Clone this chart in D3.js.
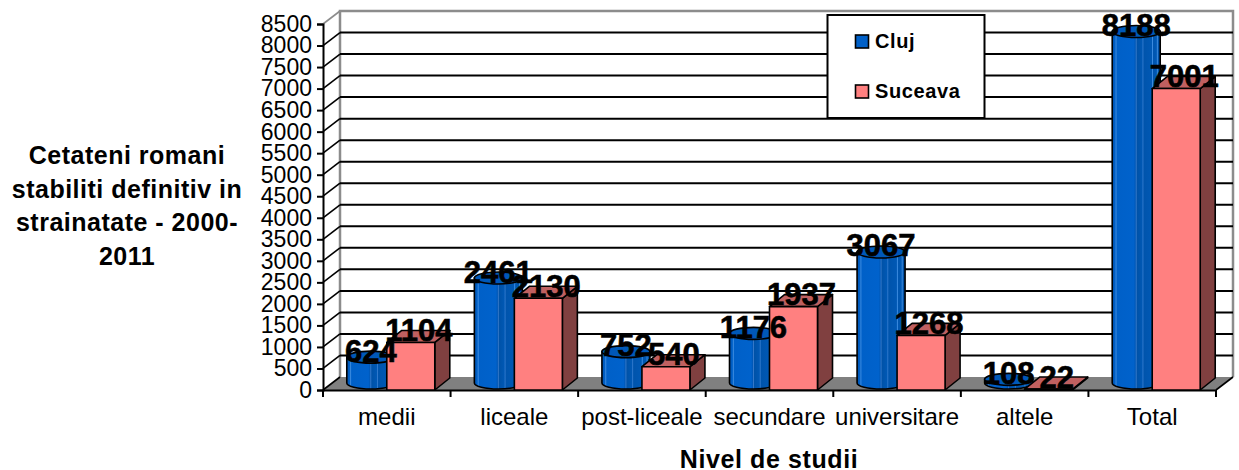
<!DOCTYPE html>
<html lang="en">
<head>
  <meta charset="UTF-8" />
  <title>Cetateni romani stabiliti definitiv in strainatate</title>
  <script src="https://d3js.org/d3.v7.min.js"></script>
  <style>
    body { margin: 0; background: #fff; }
    svg { display: block; font-family: "Liberation Sans", Arial, sans-serif; }
    .label { font-weight: bold; font-size: 31px; text-anchor: middle; fill: #000; stroke: #000; stroke-width: 0.6px; }
    .title { font-weight: bold; font-size: 25px; letter-spacing: 0.5px; text-anchor: middle; fill: #000; }
    .axis text { fill: #000; font-family: "Liberation Sans", Arial, sans-serif; }
    .y-axis text { font-size: 23px; }
    .x-axis text { font-size: 24px; }
    .axis path, .axis line { stroke: #000; stroke-width: 2px; }
  </style>
</head>
<body>
  <svg id="chart" width="1239" height="470"></svg>
  <script>
    const categories = ["medii", "liceale", "post-liceale", "secundare", "universitare", "altele", "Total"];
    const cluj = [624, 2461, 752, 1176, 3067, 108, 8188];
    const suceava = [1104, 2130, 540, 1937, 1268, 22, 7001];
    const yTicks = d3.range(0, 8501, 500);
    const titleLines = ["Cetateni romani", "stabiliti definitiv in", "strainatate - 2000-", "2011"];

    const svg = d3.select("#chart");

    // depth of the fake 3d box, and of the bars standing in it
    const dx = 17, dy = -13;
    const barDx = 15, barDy = -12;
    const barW = 48;

    const x = d3.scaleBand().domain(categories).range([323, 1216]);
    const y = d3.scaleLinear().domain([0, 8500]).range([390, 24]);

    const defs = svg.append("defs");
    const grad = defs.append("linearGradient").attr("id", "cyl");
    [[0, "#0054b0"], [0.06, "#0060c8"], [0.08, "#3d8ce0"], [0.1, "#0060c8"], [0.45, "#0062cc"], [0.48, "#0058b8"],
     [0.5, "#3478c8"], [0.52, "#0052a8"], [0.62, "#0058b4"], [0.64, "#2f78cc"], [0.66, "#0054ac"], [0.82, "#0058b4"],
     [0.84, "#3d8ce0"], [0.86, "#0056b0"], [0.92, "#0058b4"], [0.94, "#3d8ce0"], [0.96, "#0052a8"], [1, "#004a9c"]]
      .forEach(s => grad.append("stop").attr("offset", s[0]).attr("stop-color", s[1]));

    // back wall and floor
    svg.append("polygon")
      .attr("points", [[323, y(0)], [323 + dx, y(0) + dy], [1216 + dx, y(0) + dy], [1216, y(0)]].join(" "))
      .attr("fill", "#808080");
    svg.append("path")
      .attr("d", `M${323 + dx},${y(0) + dy}V${y(8500) + dy}H${1216 + dx}V${y(0) + dy}`)
      .attr("fill", "none").attr("stroke", "#8c8c8c").attr("stroke-width", 2.5);

    // gridlines: along the wall and diagonal on the side
    yTicks.forEach(t => {
      if (t > 0 && t < 8500) {
        svg.append("line").attr("x1", 323 + dx).attr("x2", 1216 + dx)
          .attr("y1", y(t) + dy).attr("y2", y(t) + dy)
          .attr("stroke", "#000").attr("stroke-width", 2);
      }
      svg.append("line").attr("x1", 323).attr("x2", 323 + dx)
        .attr("y1", y(t)).attr("y2", y(t) + dy)
        .attr("stroke", t === 8500 ? "#8c8c8c" : "#000").attr("stroke-width", 1.6);
    });
    svg.append("line").attr("x1", 1216).attr("x2", 1216 + dx)
      .attr("y1", y(0)).attr("y2", y(0) + dy)
      .attr("stroke", "#000").attr("stroke-width", 1.6);

    // axes
    svg.append("g").attr("class", "axis y-axis")
      .attr("transform", "translate(323,0)")
      .call(d3.axisLeft(y).tickValues(yTicks).tickFormat(d3.format("d")).tickSize(6).tickPadding(5));

    svg.append("g").attr("class", "axis x-axis")
      .attr("transform", `translate(0,${y(0)})`)
      .call(d3.axisBottom(x).tickSize(0).tickPadding(18));

    svg.selectAll(".sep").data(categories.concat("end")).enter().append("line")
      .attr("x1", d => d === "end" ? 1216 : x(d))
      .attr("x2", d => d === "end" ? 1216 : x(d))
      .attr("y1", y(0)).attr("y2", y(0) + 7)
      .attr("stroke", "#000").attr("stroke-width", 2);

    // Cluj cylinders
    const cyl = svg.selectAll(".cyl").data(categories).enter().append("g").attr("class", "cyl");
    const center = d => x(d) + x.bandwidth() / 2;
    cyl.append("path")
      .attr("d", (d, i) => {
        const cx = center(d) - 40 + barW / 2, rx = barW / 2, ry = 6;
        const top = y(cluj[i]) - 6, base = y(0) - 7;
        return `M${cx - rx},${top}V${base}A${rx},${ry} 0 0 0 ${cx + rx},${base}V${top}Z`;
      })
      .attr("fill", "url(#cyl)").attr("stroke", "#000").attr("stroke-width", 1.6);
    cyl.append("ellipse")
      .attr("cx", d => center(d) - 40 + barW / 2)
      .attr("cy", (d, i) => y(cluj[i]) - 6)
      .attr("rx", barW / 2).attr("ry", 6)
      .attr("fill", "#0058b8").attr("stroke", "#000").attr("stroke-width", 1.6);

    // Suceava boxes
    const box = svg.selectAll(".box").data(categories).enter().append("g").attr("class", "box")
      .attr("stroke", "#000").attr("stroke-width", 1.6).attr("stroke-linejoin", "round");
    box.append("polygon")
      .attr("points", (d, i) => {
        const l = center(d), r = l + barW, t = y(suceava[i]);
        return [[r, t], [r + barDx, t + barDy], [r + barDx, y(0) + barDy], [r, y(0)]].join(" ");
      })
      .attr("fill", "#804040");
    box.append("polygon")
      .attr("points", (d, i) => {
        const l = center(d), r = l + barW, t = y(suceava[i]);
        return [[l, t], [l + barDx, t + barDy], [r + barDx, t + barDy], [r, t]].join(" ");
      })
      .attr("fill", "#c06060");
    box.append("rect")
      .attr("x", d => center(d))
      .attr("y", (d, i) => y(suceava[i]))
      .attr("width", barW)
      .attr("height", (d, i) => y(0) - y(suceava[i]))
      .attr("fill", "#ff8080");

    // value labels
    svg.selectAll(".lc").data(cluj).enter().append("text")
      .attr("class", "label")
      .attr("x", (d, i) => center(categories[i]) - 16)
      .attr("y", d => y(d) - 1.5)
      .text(d => d);
    svg.selectAll(".ls").data(suceava).enter().append("text")
      .attr("class", "label")
      .attr("x", (d, i) => center(categories[i]) + barW / 2 + 8)
      .attr("y", d => y(d) - 1.5)
      .text(d => d);

    // legend
    const legend = svg.append("g");
    legend.append("rect").attr("x", 827.5).attr("y", 15).attr("width", 157).attr("height", 103)
      .attr("fill", "#fff").attr("stroke", "#000").attr("stroke-width", 2);
    [["Cluj", "#0060c8", 48], ["Suceava", "#ff8080", 98]].forEach(l => {
      legend.append("rect").attr("x", 855.5).attr("y", l[2] - 13).attr("width", 13).attr("height", 13)
        .attr("fill", l[1]).attr("stroke", "#000").attr("stroke-width", 1.6);
      legend.append("text").attr("x", 875).attr("y", l[2])
        .attr("font-weight", "bold").attr("font-size", 20).attr("letter-spacing", 0.6).text(l[0]);
    });

    // titles
    svg.selectAll(".yt").data(titleLines).enter().append("text")
      .attr("class", "title").attr("x", 127)
      .attr("y", (d, i) => 164 + i * 33.5)
      .text(d => d);
    svg.append("text").attr("class", "title").attr("x", 769).attr("y", 467.5)
      .style("letter-spacing", "0.6px")
      .text("Nivel de studii");
  </script>
</body>
</html>
